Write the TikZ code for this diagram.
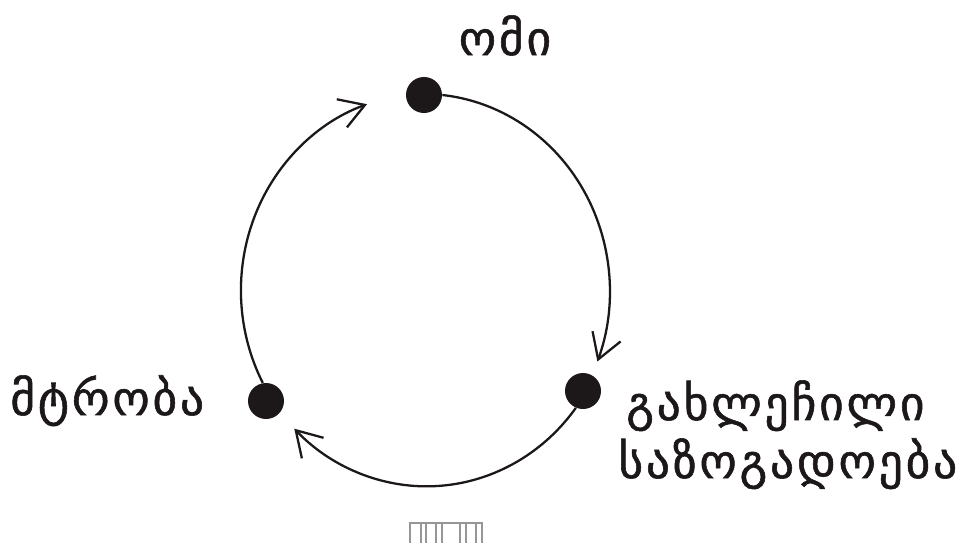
\documentclass[tikz,border=0pt]{standalone}
\usepackage{fontspec}
\newfontfamily\geofont{DejaVu Sans}[FakeBold=1.2, LetterSpace=6]
\usetikzlibrary{arrows.meta,positioning}
\definecolor{inkblack}{RGB}{28,24,25}
\definecolor{tofugray}{RGB}{150,150,150}

\begin{document}
\begin{tikzpicture}[x=0.02cm, y=-0.02cm]
    \useasboundingbox (0,0) rectangle (970,542);
    % stages of the cycle
    \node[circle, fill=inkblack, minimum size=0.72cm, inner sep=0pt] (war) at (424,95) {};
    \node[circle, fill=inkblack, minimum size=0.72cm, inner sep=0pt] (split) at (583,391) {};
    \node[circle, fill=inkblack, minimum size=0.72cm, inner sep=0pt] (enmity) at (266,401) {};
    % labels
    \node[font=\geofont\fontsize{27}{34}\selectfont, text=inkblack, anchor=base] (warlbl) at (505,55) {ომი};
    \node[font=\geofont\fontsize{27}{34}\selectfont, text=inkblack, anchor=base west, inner sep=0pt] (enmitylbl) at (10,415) {მტრობა};
    \node[font=\geofont\fontsize{27}{34}\selectfont, text=inkblack, anchor=base west, inner sep=0pt] (splitlbl) at (626,420) {გახლეჩილი};
    \node[font=\geofont\fontsize{27}{34}\selectfont, text=inkblack, anchor=base west, inner sep=0pt] (societylbl) at (618,478) {საზოგადოება};
    % arcs between stages
    \draw[-{Straight Barb[length=14pt,width=17pt]}, line width=1.3pt, inkblack]
      (war.east) arc[start angle=-84, end angle=21, x radius=187, y radius=197];
    \draw[-{Straight Barb[length=14pt,width=17pt]}, line width=1.3pt, inkblack]
      (split.247) arc[start angle=37, end angle=135, x radius=187, y radius=197];
    \draw[-{Straight Barb[length=14pt,width=17pt]}, line width=1.3pt, inkblack]
      (enmity.100) arc[start angle=152, end angle=251, x radius=187, y radius=197];
    % missing glyphs at the bottom
    \draw[tofugray, line width=0.6pt] (410,548) |- (482,523) -- (482,548);
    \foreach \xx in {421,426,436,442,460,466,476}
      \draw[tofugray, line width=0.6pt] (\xx,523) -- (\xx,548);
\end{tikzpicture}
\end{document}
